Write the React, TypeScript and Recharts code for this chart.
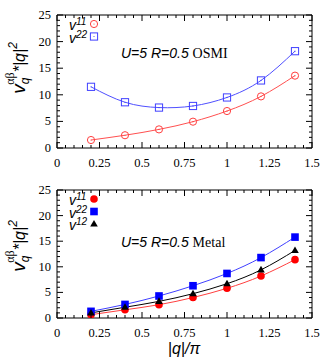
import React from 'react';
import { LineChart, Line, XAxis, YAxis, Customized } from 'recharts';

const qVals = [0.2, 0.4, 0.6, 0.8, 1.0, 1.2, 1.4];
const osmiV11 = [1.5, 2.4, 3.5, 4.95, 6.95, 9.7, 13.6];
const osmiV22 = [11.5, 8.6, 7.6, 7.9, 9.5, 12.7, 18.2];
const metalV11 = [0.65, 1.6, 2.6, 4.0, 5.8, 8.2, 11.4];
const metalV22 = [1.3, 2.65, 4.3, 6.3, 8.7, 11.8, 15.8];
const metalV12 = [1.0, 2.1, 3.25, 4.75, 6.7, 9.4, 13.2];

const xTicks = Array.from({ length: 31 }, (_, i) => +(i * 0.05).toFixed(2));
const yTicks = Array.from({ length: 26 }, (_, i) => i);

const serif = '"Liberation Serif", "DejaVu Serif", serif';
const sans = '"Liberation Sans", Arial, sans-serif';

const isMajor = (v: number, step: number) => Math.abs(v / step - Math.round(v / step)) < 1e-6;

const BottomTick = (p: any) => {
  const v = p.payload.value;
  const major = isMajor(v, 0.25);
  return (
    <g>
      <line x1={p.x} x2={p.x} y1={p.y} y2={p.y - (major ? 6 : 3)} stroke="#000" />
      {major && (
        <text x={p.x} y={p.y + 19} textAnchor="middle" fontFamily={serif} fontSize={12.5} fill="#000">
          {String(v)}
        </text>
      )}
    </g>
  );
};
const TopTick = (p: any) => {
  const major = isMajor(p.payload.value, 0.25);
  return <line x1={p.x} x2={p.x} y1={p.y} y2={p.y + (major ? 6 : 3)} stroke="#000" />;
};
const LeftTick = (p: any) => {
  const v = p.payload.value;
  const major = isMajor(v, 5);
  return (
    <g>
      <line x1={p.x} x2={p.x + (major ? 6 : 3)} y1={p.y} y2={p.y} stroke="#000" />
      {major && (
        <text x={p.x - 6} y={p.y + 4} textAnchor="end" fontFamily={serif} fontSize={12.5} fill="#000">
          {String(v)}
        </text>
      )}
    </g>
  );
};
const RightTick = (p: any) => {
  const major = isMajor(p.payload.value, 5);
  return <line x1={p.x} x2={p.x - (major ? 6 : 3)} y1={p.y} y2={p.y} stroke="#000" />;
};

const OpenCircle = ({ cx, cy, color }: any) =>
  cx == null ? null : (
    <g>
      <circle cx={cx} cy={cy} r={3.6} fill="none" stroke={color} strokeWidth={1} />
      <circle cx={cx} cy={cy} r={0.6} fill={color} />
    </g>
  );
const OpenSquare = ({ cx, cy, color }: any) =>
  cx == null ? null : (
    <g>
      <rect x={cx - 3.6} y={cy - 3.6} width={7.2} height={7.2} fill="none" stroke={color} strokeWidth={1} />
      <circle cx={cx} cy={cy} r={0.6} fill={color} />
    </g>
  );
const FilledCircle = ({ cx, cy, color }: any) =>
  cx == null ? null : <circle cx={cx} cy={cy} r={3.8} fill={color} />;
const FilledSquare = ({ cx, cy, color }: any) =>
  cx == null ? null : <rect x={cx - 3.8} y={cy - 3.8} width={7.6} height={7.6} fill={color} />;
const FilledTriangle = ({ cx, cy, color }: any) =>
  cx == null ? null : <path d={`M${cx},${cy - 4} L${cx + 3.8},${cy + 2.6} L${cx - 3.8},${cy + 2.6} Z`} fill={color} />;

const Vsym = ({ x, y, sup }: { x: number; y: number; sup: string }) => (
  <text x={x} y={y} fontFamily={sans} fontStyle="italic" fill="#000">
    <tspan fontSize={14}>v</tspan>
    <tspan fontSize={10} dy={-5}>{sup}</tspan>
  </text>
);

const YTitle = ({ cx, cy }: { cx: number; cy: number }) => (
  <text
    x={cx}
    y={cy}
    transform={`rotate(-90 ${cx} ${cy})`}
    textAnchor="middle"
    fontFamily={sans}
    fontStyle="italic"
    fill="#000"
  >
    <tspan fontSize={19}>v</tspan>
    <tspan fontSize={12} dy={4}>q</tspan>
    <tspan fontSize={12} dy={-15} dx={-7} fontFamily={serif} fontStyle="normal">αβ</tspan>
    <tspan fontSize={16} dy={11}>*|q|</tspan>
    <tspan fontSize={12} dy={-8}>2</tspan>
  </text>
);

interface SeriesDef {
  key: string;
  label: string;
  stroke: string;
  marker: React.FC<any>;
  markColor: string;
}

function Panel({
  rows,
  series,
  margin,
  height,
  title,
  titleY,
  legendY,
  yTitleY,
  xTitle,
}: {
  rows: any[];
  series: SeriesDef[];
  margin: { top: number; right: number; bottom: number; left: number };
  height: number;
  title: string;
  titleY: number;
  legendY: number;
  yTitleY: number;
  xTitle?: boolean;
}) {
  return (
    <LineChart width={332} height={height} data={rows} margin={margin}>
      <XAxis
        dataKey="q"
        type="number"
        domain={[0, 1.5]}
        ticks={xTicks}
        interval={0}
        height={1}
        tickSize={0}
        tickMargin={0}
        tickLine={false}
        tick={BottomTick}
        stroke="#000"
      />
      <XAxis
        xAxisId="top"
        orientation="top"
        dataKey="q"
        type="number"
        domain={[0, 1.5]}
        ticks={xTicks}
        interval={0}
        height={1}
        tickSize={0}
        tickMargin={0}
        tickLine={false}
        tick={TopTick}
        stroke="#000"
      />
      <YAxis
        type="number"
        domain={[0, 25]}
        allowDataOverflow
        ticks={yTicks}
        interval={0}
        width={1}
        tickSize={0}
        tickMargin={0}
        tickLine={false}
        tick={LeftTick}
        stroke="#000"
      />
      <YAxis
        yAxisId="right"
        orientation="right"
        type="number"
        domain={[0, 25]}
        allowDataOverflow
        ticks={yTicks}
        interval={0}
        width={1}
        tickSize={0}
        tickMargin={0}
        tickLine={false}
        tick={RightTick}
        stroke="#000"
      />
      {series.map((s) => {
        const M = s.marker;
        return (
          <Line
            key={s.key}
            dataKey={s.key}
            type="natural"
            stroke={s.stroke}
            strokeWidth={1}
            dot={<M color={s.markColor} />}
            activeDot={false}
            isAnimationActive={false}
          />
        );
      })}
      <Customized
        component={() => (
          <g>
            <YTitle cx={25} cy={yTitleY} />
            {series.map((s, i) => {
              const M = s.marker;
              const y = legendY + i * 12.5;
              return (
                <g key={s.key}>
                  <Vsym x={69} y={y + 6} sup={s.label} />
                  <M cx={94} cy={y} color={s.markColor} />
                </g>
              );
            })}
            <text x={121} y={titleY} fill="#000">
              <tspan fontFamily={sans} fontStyle="italic" fontSize={14}>U=5 R=0.5 </tspan>
              <tspan fontFamily={serif} fontSize={14}>{title}</tspan>
            </text>
            {xTitle && (
              <text x={184} y={174} textAnchor="middle" fontFamily={sans} fontStyle="italic" fontSize={16} fill="#000">
                |q|/π
              </text>
            )}
          </g>
        )}
      />
    </LineChart>
  );
}

export default function App() {
  const topRows = qVals.map((q, i) => ({ q, v11: osmiV11[i], v22: osmiV22[i] }));
  const botRows = qVals.map((q, i) => ({ q, v11: metalV11[i], v22: metalV22[i], v12: metalV12[i] }));
  return (
    <div style={{ position: 'absolute', left: 0, top: 0, width: 332, height: 360, background: '#fff' }}>
      <Panel
        rows={topRows}
        height={180}
        margin={{ top: 14, right: 19, bottom: 31, left: 56 }}
        series={[
          { key: 'v11', label: '11', stroke: '#ff5050', marker: OpenCircle, markColor: '#ff4040' },
          { key: 'v22', label: '22', stroke: '#5050ff', marker: OpenSquare, markColor: '#4040ff' },
        ]}
        title="OSMI"
        titleY={58}
        legendY={24}
        yTitleY={68}
      />
      <Panel
        rows={botRows}
        height={180}
        margin={{ top: 9, right: 19, bottom: 41, left: 56 }}
        series={[
          { key: 'v11', label: '11', stroke: '#ff4040', marker: FilledCircle, markColor: '#ff0000' },
          { key: 'v22', label: '22', stroke: '#4040ff', marker: FilledSquare, markColor: '#0000ff' },
          { key: 'v12', label: '12', stroke: '#000', marker: FilledTriangle, markColor: '#000' },
        ]}
        title="Metal"
        titleY={67}
        legendY={19}
        yTitleY={66}
        xTitle
      />
    </div>
  );
}
